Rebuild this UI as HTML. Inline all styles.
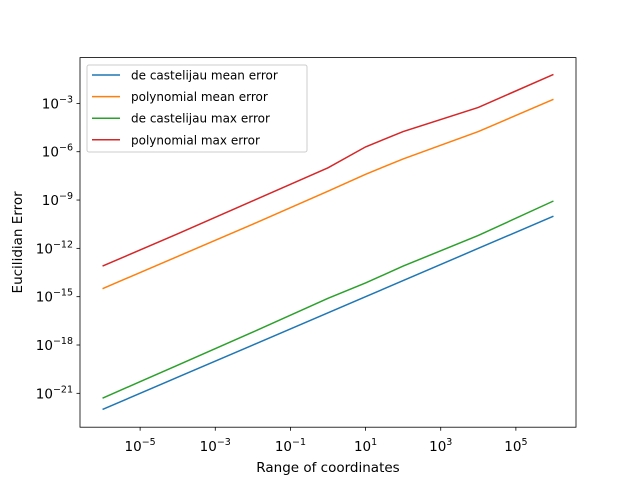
<!DOCTYPE html>
<html><head><meta charset="utf-8"><style>
body{margin:0;background:#fff;}
svg text{font-family:"DejaVu Sans","Liberation Sans",sans-serif;fill:#000;}
</style></head><body>
<svg width="640" height="480" viewBox="0 0 640 480" id="chart">
<rect width="640" height="480" fill="#fff"/>
<g id="plot"></g>
</svg>
<script>
const xDecades=[-6,-4,-2,0,1,2,4,6];
const blueVals=[-22,-20,-18,-16,-15,-14,-12,-10];
const orangeVals=[-14.5,-12.5,-10.5,-8.45,-7.4,-6.45,-4.75,-2.75];
const greenVals=[-21.3,-19.25,-17.2,-15.1,-14.15,-13.1,-11.2,-9.06];
const redVals=[-13.1,-11.1,-9.05,-7.0,-5.7,-4.75,-3.25,-1.2];
const seriesNames=["de castelijau mean error","polynomial mean error","de castelijau max error","polynomial max error"];
const xTickExp=[-5,-3,-1,1,3,5];
const yTickExp=[-21,-18,-15,-12,-9,-6,-3];

const L=80,R=576,T=57.6,B=427.2;
const xmin=-6.6,xmax=6.6;
const ylo=-22.06,yhi=-1.2,pad=(yhi-ylo)*0.05;
const ymin=ylo-pad,ymax=yhi+pad;
const sx=v=>L+(v-xmin)/(xmax-xmin)*(R-L);
const sy=v=>B-(v-ymin)/(ymax-ymin)*(B-T);
const NS="http://www.w3.org/2000/svg";
const g=document.getElementById('plot');
function mk(t,a,p){const e=document.createElementNS(NS,t);for(const k in a)e.setAttribute(k,a[k]);(p||g).appendChild(e);return e;}

const colors=["#1f77b4","#ff7f0e","#2ca02c","#d62728"];
[blueVals,orangeVals,greenVals,redVals].forEach((vals,i)=>{
  const pl=mk('polyline',{points:xDecades.map((x,j)=>sx(x)+','+sy(vals[j])).join(' '),fill:'none',stroke:colors[i],'stroke-width':1.5});
  
  
});

xTickExp.forEach(e=>{
  mk('line',{x1:sx(e),x2:sx(e),y1:B,y2:B+3.5,stroke:'#000','stroke-width':0.8});
  const t=mk('text',{x:sx(e),y:B+24,'text-anchor':'middle','font-size':'13.5px'});
  
  
  t.innerHTML='10<tspan dy="-6" font-size="9.5px">'+(e<0?'−':'')+Math.abs(e)+'</tspan>';
});
yTickExp.forEach(e=>{
  mk('line',{x1:L,x2:L-3.5,y1:sy(e),y2:sy(e),stroke:'#000','stroke-width':0.8});
  const t=mk('text',{x:L-7,y:sy(e)+5,'text-anchor':'end','font-size':'13.5px'});
  
  
  t.innerHTML='10<tspan dy="-6" font-size="9.5px">'+(e<0?'−':'')+Math.abs(e)+'</tspan>';
});
const fr=mk('rect',{x:L,y:T,width:R-L,height:B-T,fill:'none',stroke:'#000','stroke-width':0.8});



const xt=mk('text',{x:(L+R)/2,y:472,'text-anchor':'middle','font-size':'13.5px'});
xt.textContent='Range of coordinates';


const yt=mk('text',{x:22,y:(T+B)/2,'text-anchor':'middle','font-size':'13.5px',transform:'rotate(-90 22 '+((T+B)/2)+')'});
yt.textContent='Eucilidian Error';



const lg=mk('g',{});


mk('rect',{x:87,y:65,width:220,height:87,rx:2,fill:'#fff','fill-opacity':0.8,stroke:'#ccc','stroke-width':1},lg);
seriesNames.forEach((n,i)=>{
  const y=75+i*21.6;
  mk('line',{x1:92,x2:120,y1:y,y2:y,stroke:colors[i],'stroke-width':1.5},lg);
  const t=mk('text',{x:131,y:y+4.5,'font-size':'12px'},lg);
  t.textContent=n;
  
  
});
</script>
</body></html>
